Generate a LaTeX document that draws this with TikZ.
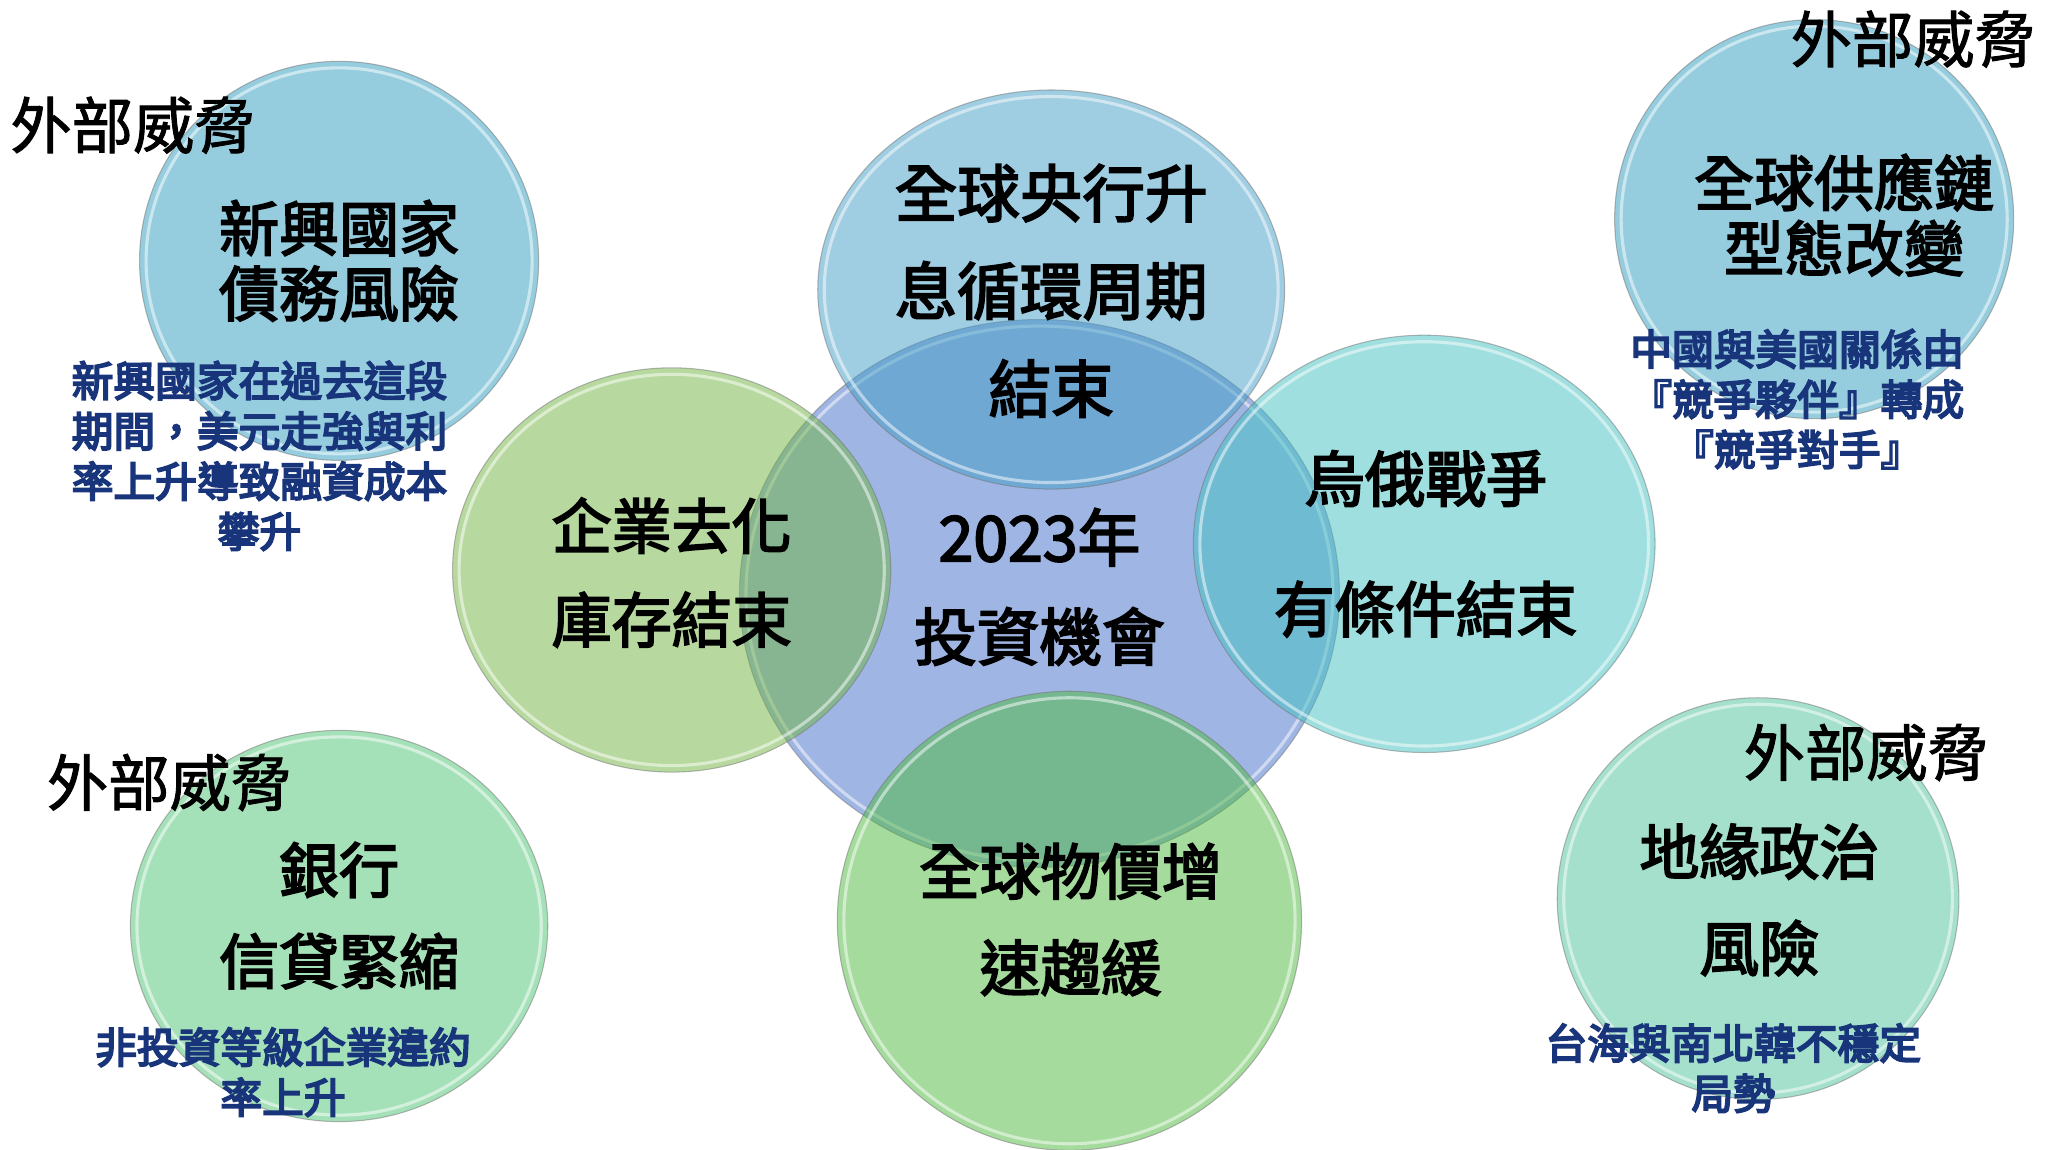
\documentclass[tikz,border=0pt]{standalone}
\usepackage{fontspec}
\setmainfont{Noto Sans CJK TC}
\newfontfamily\titlefont{Noto Sans CJK TC}[FakeBold=3]
\newfontfamily\threatfont{Noto Sans CJK TC}[FakeBold=1.5]
\newfontfamily\notefont{Noto Sans CJK TC}[FakeBold=4.5]
\definecolor{notecol}{RGB}{24,52,122}
\definecolor{cTL}{RGB}{45,157,191}
\definecolor{cTR}{RGB}{45,157,191}
\definecolor{cBL}{RGB}{77,197,115}
\definecolor{cBR}{RGB}{75,195,155}
\definecolor{cCen}{RGB}{65,109,201}
\definecolor{cTop}{RGB}{65,157,197}
\definecolor{cLeft}{RGB}{113,181,65}
\definecolor{cRight}{RGB}{65,193,193}
\definecolor{cBot}{RGB}{77,185,61}
\begin{document}
\begin{tikzpicture}[x=1pt,y=-1pt,
  circ/.style={fill=#1, fill opacity=0.5, draw=black!55, draw opacity=0.5, line width=0.8pt},
  ring/.style={draw=white, draw opacity=0.5, line width=2.4pt},
  title/.style={align=center, text=black, inner sep=0pt},
  threat/.style={text=black, inner sep=0pt, font=\threatfont\fontsize{47}{50}\selectfont},
  note/.style={align=center, text=notecol, inner sep=0pt, font=\notefont\fontsize{32}{38.5}\selectfont}]
\useasboundingbox (0,0) rectangle (1568,881);
\fill[white] (0,0) rectangle (1568,881);
% outer circles
\path[circ=cTL] (260,200) ellipse [x radius=153, y radius=153];
\path[ring] (260,200) ellipse [x radius=148, y radius=148];
\path[circ=cTR] (1391,168) ellipse [x radius=153, y radius=153];
\path[ring] (1391,168) ellipse [x radius=148, y radius=148];
\path[circ=cBL] (260,710) ellipse [x radius=160, y radius=150];
\path[ring] (260,710) ellipse [x radius=155, y radius=145];
\path[circ=cBR] (1348,689) ellipse [x radius=154, y radius=154];
\path[ring] (1348,689) ellipse [x radius=149, y radius=149];
% central venn
\path[circ=cCen] (797,455) ellipse [x radius=230, y radius=210];
\path[ring] (797,455) ellipse [x radius=225, y radius=205];
\path[circ=cTop] (806,222) ellipse [x radius=179, y radius=153];
\path[ring] (806,222) ellipse [x radius=174, y radius=148];
\path[circ=cRight] (1092,417) ellipse [x radius=177, y radius=160];
\path[ring] (1092,417) ellipse [x radius=172, y radius=155];
\path[circ=cBot] (820,706) ellipse [x radius=178, y radius=176];
\path[ring] (820,706) ellipse [x radius=173, y radius=171];
\path[circ=cLeft] (515,437) ellipse [x radius=168, y radius=155];
\path[ring] (515,437) ellipse [x radius=163, y radius=150];
% titles
\node[title, font=\titlefont\fontsize{46}{50}\selectfont] (tTL) at (260,200) {新興國家\\債務風險};
\node[title, font=\titlefont\fontsize{46}{50}\selectfont] (tTR) at (1414,165) {全球供應鏈\\型態改變};
\node[title, font=\titlefont\fontsize{48}{75}\selectfont] (tTop) at (806,223) {全球央行升\\息循環周期\\結束};
\node[title, font=\titlefont\fontsize{48}{76}\selectfont] (tCen) at (797,450) {2023年\\投資機會};
\node[title, font=\titlefont\fontsize{46}{72}\selectfont] (tLeft) at (515,439) {企業去化\\庫存結束};
\node[title, font=\titlefont\fontsize{46.5}{100}\selectfont] (tRight) at (1093,417) {烏俄戰爭\\有條件結束};
\node[title, font=\titlefont\fontsize{46.5}{74}\selectfont] (tBot) at (821,705) {全球物價增\\速趨緩};
\node[title, font=\titlefont\fontsize{46}{70}\selectfont] (tBL) at (260,702) {銀行\\信貸緊縮};
\node[title, font=\titlefont\fontsize{46}{74}\selectfont] (tBR) at (1349,690) {地緣政治\\風險};
% threats
\node[threat] (wTL) at (102,96) {外部威脅};
\node[threat] (wTR) at (1467,30) {外部威脅};
\node[threat] (wBL) at (130,600) {外部威脅};
\node[threat] (wBR) at (1431,577) {外部威脅};
% notes
\node[note] (nTL) at (199,349.5) {新興國家在過去這段\\期間，美元走強與利\\率上升導致融資成本\\攀升};
\node[note] (nTR) at (1378,306) {中國與美國關係由\\『競爭夥伴』轉成\\『競爭對手』};
\node[note] (nBL) at (217,822) {非投資等級企業違約\\率上升};
\node[note] (nBR) at (1329,819) {台海與南北韓不穩定\\局勢};
\end{tikzpicture}
\end{document}
